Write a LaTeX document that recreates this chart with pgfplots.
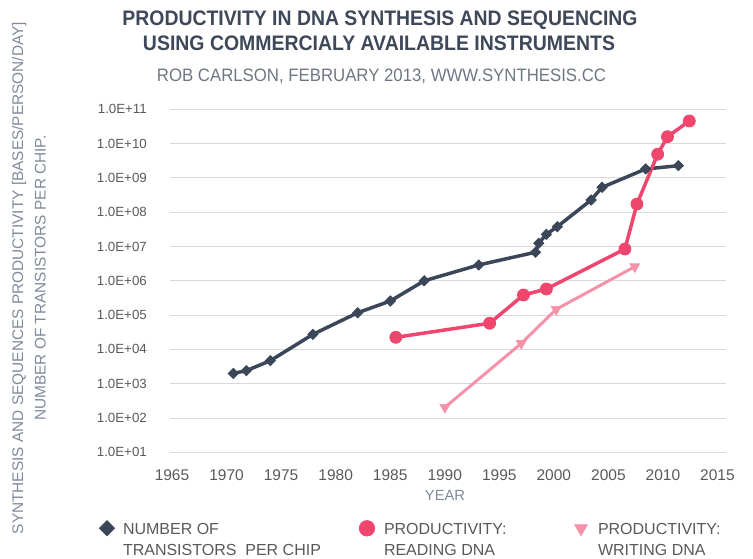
\documentclass[border=0pt]{standalone}
\usepackage{pgfplots}
\pgfplotsset{compat=1.18}
\usepackage{graphicx}
\usepackage{fontspec}
\setmainfont{Liberation Sans}

\definecolor{navy}{RGB}{59,70,89}
\definecolor{rose}{RGB}{239,70,110}
\definecolor{pinkw}{RGB}{245,146,169}
\definecolor{gridc}{RGB}{217,217,217}
\definecolor{titlec}{RGB}{62,72,88}
\definecolor{subc}{RGB}{110,118,130}
\definecolor{tickc}{RGB}{89,89,89}
\definecolor{labc}{RGB}{128,138,155}

% values
\pgfplotstableread{
year  value
1970.8 2.0e3
1972.0 2.4e3
1974.2 4.7e3
1978.1 2.75e4
1982.2 1.17e5
1985.2 2.58e5
1988.3 1.0e6
1993.3 2.9e6
1998.5 6.8e6
1998.8 1.24e7
1999.5 2.27e7
2000.5 3.78e7
2003.6 2.27e8
2004.6 5.3e8
2008.6 1.82e9
2011.6 2.27e9
}\transistors

\pgfplotstableread{
year  value
1985.7 2.25e4
1994.3 5.8e4
1997.4 3.86e5
1999.5 5.77e5
2006.7 8.45e6
2007.8 1.73e8
2009.7 4.9e9
2010.6 1.59e10
2012.6 4.56e10
}\reading

\pgfplotstableread{
year  value
1990.2 2.05e2
1997.2 1.5e4
2000.4 1.48e5
2007.6 2.58e6
}\writing

\begin{document}
\begin{tikzpicture}
\useasboundingbox (0,0) rectangle (753pt,-558pt);

\node[anchor=base, text=titlec, inner sep=0pt] at (380pt,-25.5pt)
  {\resizebox{515pt}{\height}{\fontsize{21}{22}\selectfont\bfseries PRODUCTIVITY IN DNA SYNTHESIS AND SEQUENCING}};
\node[anchor=base, text=titlec, inner sep=0pt] at (379pt,-50.5pt)
  {\resizebox{472pt}{\height}{\fontsize{21}{22}\selectfont\bfseries USING COMMERCIALY AVAILABLE INSTRUMENTS}};
\node[anchor=base, text=subc, inner sep=0pt] at (381.5pt,-81.5pt)
  {\resizebox{449pt}{\height}{\fontsize{18}{19}\selectfont ROB CARLSON, FEBRUARY 2013, WWW.SYNTHESIS.CC}};

\begin{axis}[
  at={(170pt,-452.3pt)}, anchor=south west,
  scale only axis, width=556.4pt, height=343pt,
  xmin=1965, xmax=2016,
  ymode=log, log basis y=10, ymin=10, ymax=1e11,
  clip=false,
  axis line style={draw=none},
  major tick length=0pt,
  ymajorgrids=true,
  grid style={gridc, line width=1pt},
  xtick={1965,1970,...,2015},
  xticklabels={1965,1970,1975,1980,1985,1990,1995,2000,2005,2010,2015},
  ytick={1e1,1e2,1e3,1e4,1e5,1e6,1e7,1e8,1e9,1e10,1e11},
  yticklabels={1.0E+01,1.0E+02,1.0E+03,1.0E+04,1.0E+05,1.0E+06,1.0E+07,1.0E+08,1.0E+09,1.0E+10,1.0E+11},
  yticklabel style={font=\fontsize{13.3}{14}\selectfont, text=tickc, anchor=east, inner sep=0pt, xshift=-23pt},
  xticklabel style={font=\fontsize{15.5}{16}\selectfont, text=tickc, anchor=north, inner sep=0pt, yshift=-17pt, xshift=2pt},
  xlabel={YEAR},
  xlabel style={at={(rel axis cs:0.4942,-0.1245)}, anchor=center, font=\fontsize{14.7}{16}\selectfont, text=labc},
  ylabel={SYNTHESIS AND SEQUENCES PRODUCTIVITY [BASES/PERSON/DAY]\\NUMBER OF TRANSISTORS PER CHIP.},
  ylabel style={at={(rel axis cs:-0.2535,0.508)}, anchor=center, rotate=0, align=center,
    font=\fontsize{15.4}{22.5}\selectfont, text=labc},
  legend columns=3,
  legend style={at={(rel axis cs:-0.1276,-0.1988)}, anchor=north west,
    draw=none, fill=none, inner sep=0pt, outer sep=0pt,
    column sep=0pt, row sep=0pt,
    nodes={inner sep=0pt, text=tickc},
    cells={anchor=base west},
    font=\fontsize{16}{21}\selectfont},
  legend image code/.code={
    \path[draw=none, fill=none] (-8pt,-2.5pt) rectangle (8pt,13.5pt);
    \path[#1, draw=none] plot coordinates {(0pt,5.75pt)};
  },
]
\addplot[forget plot, navy, line width=3.5pt, mark=square*,
  mark options={rotate=45, line width=0.8pt}, mark size=3.6pt] table {\transistors};
\addplot[forget plot, rose, line width=3.5pt, mark=*,
  mark options={line width=0.8pt}, mark size=6pt] table {\reading};
\addplot[forget plot, pinkw, line width=3pt, mark=triangle*,
  mark options={rotate=180, line width=0.6pt}, mark size=5.8pt] table {\writing};

\addlegendimage{navy, mark=square*, mark options={rotate=45, draw=navy, line width=0.6pt}, mark size=5.4pt}
\addlegendentry{\hspace*{8pt}\parbox[t]{236pt}{NUMBER OF\\TRANSISTORS~~PER CHIP}}
\addlegendimage{rose, mark=*, mark options={draw=rose, line width=0.6pt}, mark size=7.8pt}
\addlegendentry{\hspace*{9pt}\parbox[t]{189pt}{PRODUCTIVITY:\\READING DNA}}
\addlegendimage{pinkw, mark=triangle*, mark options={rotate=180, draw=pinkw, line width=0.6pt}, mark size=7.5pt}
\addlegendentry{\hspace*{9pt}\parbox[t]{130pt}{PRODUCTIVITY:\\WRITING DNA}}
\end{axis}
\end{tikzpicture}
\end{document}
